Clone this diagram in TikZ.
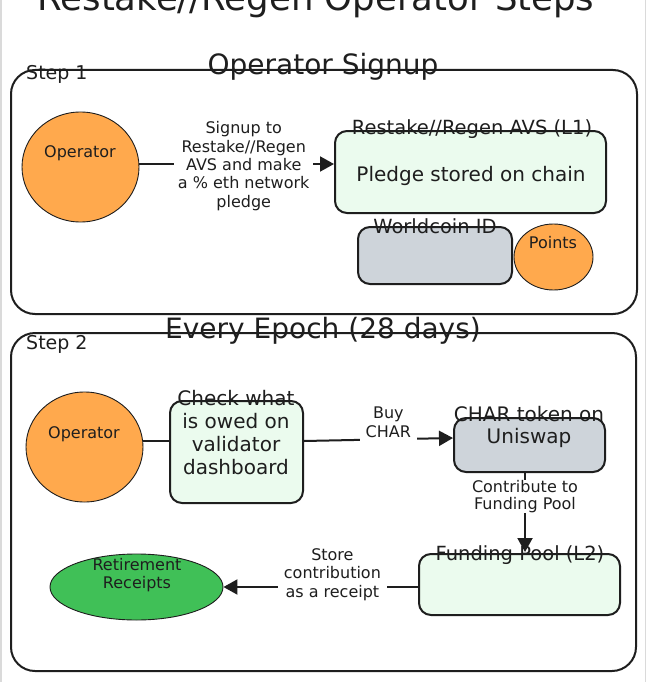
\documentclass[tikz,border=0pt]{standalone}
\usepackage{fontspec}
\setmainfont{DejaVu Sans}
\usetikzlibrary{arrows.meta,shapes.geometric}
\definecolor{ink}{HTML}{1E1E1E}
\definecolor{orangef}{HTML}{FFA94D}
\definecolor{greenl}{HTML}{EBFBEE}
\definecolor{grayf}{HTML}{CED4DA}
\definecolor{greenf}{HTML}{40C057}
\definecolor{edgegray}{HTML}{DADADA}
\newcommand\fsz[2]{\fontsize{#1}{#2}\selectfont}
\begin{document}
\begin{tikzpicture}[x=1pt,y=-1pt,
  frame/.style={draw=ink,line width=2pt,rounded corners=24pt,inner sep=0pt},
  box/.style={draw=ink,line width=2pt,rounded corners=12pt,inner sep=0pt},
  greenbox/.style={box,fill=greenl},
  graybox/.style={box,fill=grayf},
  blob/.style={ellipse,draw=ink,line width=0.9pt,inner sep=0pt},
  txt/.style={text=ink,inner sep=0pt,align=center},
  lbl/.style={text=ink,fill=white,align=center,inner ysep=3pt,inner xsep=4pt,font=\fsz{16}{18.3}},
  arr/.style={draw=ink,line width=2pt,-{Triangle[length=14pt,width=15pt]}},
  link/.style={draw=ink,line width=2pt}]
\useasboundingbox (0,0) rectangle (647,682);
\fill[white] (0,0) rectangle (647,682);
\draw[edgegray,line width=1.5pt] (1,0) -- (1,682);
\draw[edgegray,line width=1.5pt] (645.5,0) -- (645.5,682);

% title
\node[txt,anchor=base,font=\fsz{35.5}{40}] (title) at (316,11) {Restake//Regen Operator Steps};

% step frames
\node[frame,minimum width=626pt,minimum height=244pt] (s1) at (324,192) {};
\node[frame,minimum width=625pt,minimum height=338pt] (s2) at (323.5,502) {};
\node[txt,anchor=base,font=\fsz{28}{32}] (s1title) at (323,75) {Operator Signup};
\node[txt,anchor=base west,font=\fsz{19}{22}] (s1lab) at (26,80) {Step 1};
\node[txt,anchor=base,font=\fsz{28}{32}] (s2title) at (323,338) {Every Epoch (28 days)};
\node[txt,anchor=base west,font=\fsz{19}{22}] (s2lab) at (26,349) {Step 2};

% step 1 shapes
\node[blob,fill=orangef,minimum width=117pt,minimum height=110pt] (op1) at (80.5,167) {};
\node[txt,anchor=base,font=\fsz{16}{18}] (op1t) at (80,157) {Operator};
\node[greenbox,minimum width=271pt,minimum height=82pt] (avs) at (470.5,172) {};
\node[txt,anchor=base,font=\fsz{19.5}{22}] (avst) at (472,134) {Restake//Regen AVS (L1)};
\node[txt,anchor=base,font=\fsz{20}{23}] (pledge) at (471,181) {Pledge stored on chain};
\node[graybox,minimum width=154pt,minimum height=57pt] (wid) at (435,255.5) {};
\node[txt,anchor=base,font=\fsz{19.5}{22}] (widt) at (435,233) {Worldcoin ID};
\node[blob,fill=orangef,minimum width=79pt,minimum height=66pt] (pts) at (553.5,257) {};
\node[txt,anchor=base,font=\fsz{16}{18}] (ptst) at (553,248) {Points};

\draw[arr] ([yshift=3pt]op1.east) -- node[lbl,pos=0.536,yshift=-2pt]{Signup to\\Restake//Regen\\AVS and make\\a \% eth network\\pledge} ([yshift=8pt]avs.west);

% step 2 shapes
\node[blob,fill=orangef,minimum width=117pt,minimum height=110pt] (op2) at (84.5,447) {};
\node[txt,anchor=base,font=\fsz{16}{18}] (op2t) at (84,438) {Operator};
\node[greenbox,minimum width=133pt,minimum height=102pt] (chk) at (236.5,452) {};
\node[txt,font=\fsz{20}{23}] (chkt) at (236,433) {Check what\\is owed on\\validator\\dashboard};
\node[graybox,minimum width=151pt,minimum height=54pt] (uni) at (529.5,445) {};
\node[txt,font=\fsz{20}{22}] (unit) at (529,427) {CHAR token on\\Uniswap};
\node[greenbox,minimum width=201pt,minimum height=61pt] (fund) at (519.5,584.5) {};
\node[txt,anchor=base,font=\fsz{19.5}{22}] (fundt) at (520,560) {Funding Pool (L2)};
\node[blob,fill=greenf,minimum width=173pt,minimum height=66pt] (ret) at (136.5,587) {};
\node[txt,font=\fsz{16}{18}] (rett) at (137,575) {Retirement\\Receipts};

\draw[link] ([yshift=6pt]op2.east) -- ([yshift=11pt]chk.west);
\draw[arr] ([yshift=11pt]chk.east) -- node[lbl,pos=0.566,yshift=17pt,inner ysep=5pt,inner xsep=6pt]{Buy\\CHAR} ([yshift=7pt]uni.west);
\draw[arr,shorten >=1pt] ([xshift=-4.5pt]uni.south) -- node[lbl,pos=0.296,inner ysep=0pt,font=\fsz{16}{17.3}]{Contribute to\\Funding Pool} ([xshift=5.5pt]fund.north);
\draw[arr] ([yshift=-2.5pt]fund.west) -- node[lbl,pos=0.44,yshift=12.5pt,inner xsep=6pt]{Store\\contribution\\as a receipt} (ret.east);
\end{tikzpicture}
\end{document}
